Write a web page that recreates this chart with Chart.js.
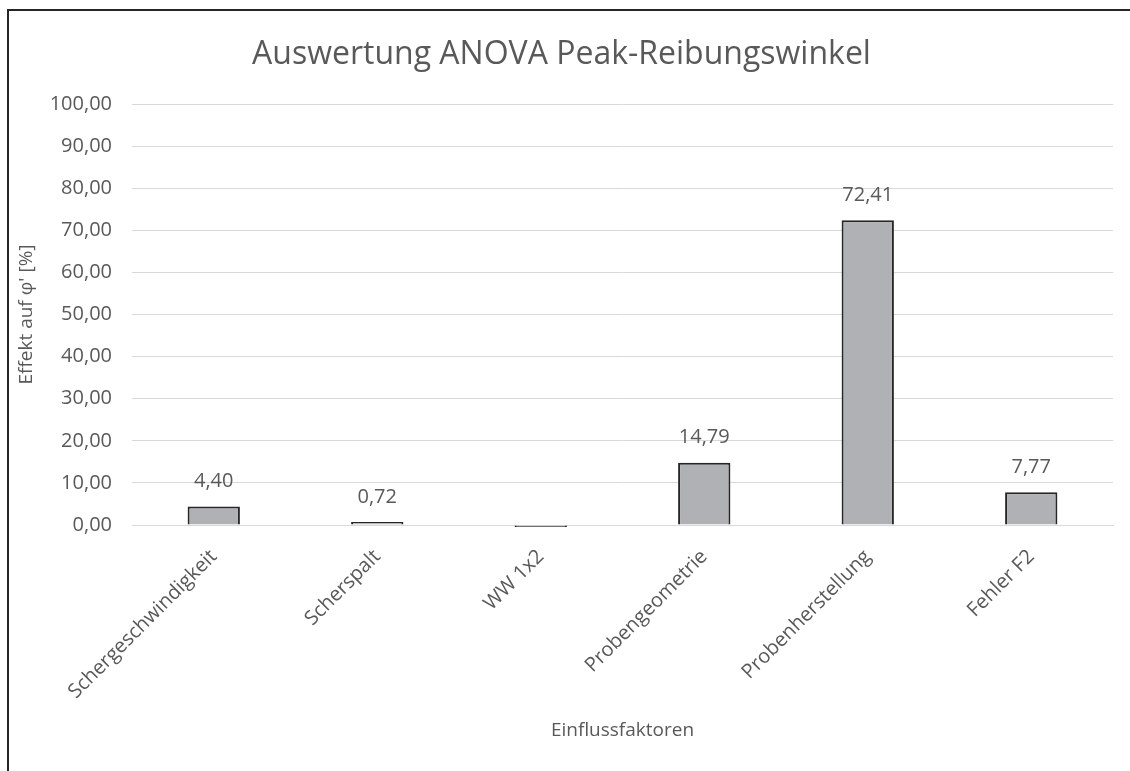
<!DOCTYPE html>
<html>
<head>
<meta charset="utf-8">
<script src="https://cdn.jsdelivr.net/npm/chart.js@4"></script>
<style>
    html, body { margin: 0; padding: 0; background: #fff; overflow: hidden; }
    #frame { position: absolute; left: 7px; top: 9px; width: 1200px; height: 900px;
             border-top: 2px solid #262626; border-left: 2px solid #262626; }
    #chart-container { position: absolute; left: 0; top: 0; width: 1130px; height: 771px; }
</style>
</head>
<body>
<div id="frame"></div>
<div id="chart-container"><canvas id="myChart"></canvas></div>
<script>
var categories = ['Schergeschwindigkeit', 'Scherspalt', 'WW 1x2', 'Probengeometrie', 'Probenherstellung', 'Fehler F2'];
var effects = [4.40, 0.72, -0.11, 14.79, 72.41, 7.77];
var yTicks = [0, 10, 20, 30, 40, 50, 60, 70, 80, 90, 100];

var textColor = '#595959';
var fontFamily = "'Open Sans', 'Noto Sans', sans-serif";

function fmt(v){
    return v.toFixed(2).replace('.', ',');
}

// value labels above the bars (negative one has no label in the original)
var barLabels = {
    id: 'barLabels',
    afterDatasetsDraw: function(chart){
        var ctx = chart.ctx;
        var meta = chart.getDatasetMeta(0);
        ctx.save();
        ctx.font = '20px ' + fontFamily;
        ctx.fillStyle = textColor;
        ctx.textAlign = 'center';
        ctx.textBaseline = 'middle';
        meta.data.forEach(function(bar, i){
            if(effects[i] > 0){
                ctx.fillText(fmt(effects[i]), bar.x, bar.y - 25);
            }
        });
        ctx.restore();
    }
};

var ctx = document.getElementById('myChart').getContext('2d');
var myChart = new Chart(ctx, {
    type: 'bar',
    data: {
        labels: categories,
        datasets: [{
            label: 'Effekt',
            data: effects,
            backgroundColor: '#b0b1b4',
            borderColor: '#262626',
            borderWidth: 2,
            barPercentage: 0.64,
            categoryPercentage: 0.5,
            minBarLength: 2,
            clip: false
        }]
    },
    options: {
        responsive: true,
        maintainAspectRatio: false,
        animation: false,
        layout: { padding: { left: 10, right: 17, top: 0, bottom: 0 } },
        plugins: {
            legend: { display: false },
            tooltip: { enabled: false },
            title: {
                display: true,
                text: 'Auswertung ANOVA Peak-Reibungswinkel',
                color: textColor,
                font: { family: fontFamily, size: 32, weight: 'normal' },
                padding: { top: 36, bottom: 29.6 }
            }
        },
        scales: {
            x: {
                grid: { display: false, drawTicks: false },
                border: { color: '#d9d9d9', width: 1 },
                ticks: {
                    color: textColor,
                    font: { family: fontFamily, size: 20 },
                    maxRotation: 45,
                    minRotation: 45,
                    padding: 20
                },
                title: {
                    display: true,
                    text: 'Einflussfaktoren',
                    color: textColor,
                    font: { family: fontFamily, size: 19 },
                    padding: { top: 4, bottom: 29 }
                },
                afterFit: function(scale){
                    scale.height = 246;
                }
            },
            y: {
                min: 0,
                max: 100,
                afterBuildTicks: function(scale){
                    scale.ticks = yTicks.map(function(v){ return { value: v }; });
                },
                grid: { color: '#d9d9d9', lineWidth: 1, drawTicks: false },
                border: { display: false },
                ticks: {
                    color: textColor,
                    font: { family: fontFamily, size: 20 },
                    padding: 20,
                    callback: function(value){ return fmt(value); }
                },
                title: {
                    display: true,
                    text: "Effekt auf φ' [%]",
                    color: textColor,
                    font: { family: fontFamily, size: 19 },
                    padding: { top: 5, bottom: 0 }
                },
                afterFit: function(scale){
                    scale.width = 122;
                }
            }
        }
    },
    plugins: [barLabels]
});
</script>
</body>
</html>
